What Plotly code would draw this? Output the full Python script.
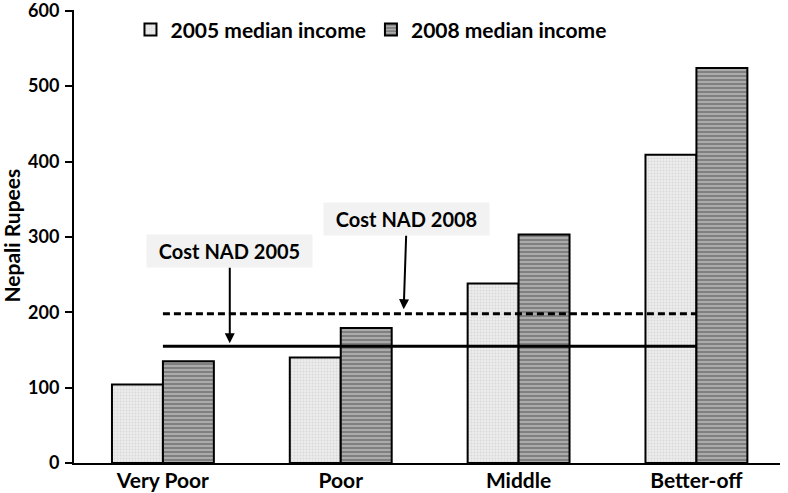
import plotly.graph_objects as go

categories = ["Very Poor", "Poor", "Middle", "Better-off"]
income_2005 = [104, 140, 238, 409]
income_2008 = [135, 179, 303, 524]
cost_nad_2005 = 155
cost_nad_2008 = 198
y_ticks = [0, 100, 200, 300, 400, 500, 600]

FONT = "Lato"

fig = go.Figure()
fig.add_trace(go.Bar(
    x=categories, y=income_2005, name="2005 median income",
    marker=dict(color="#e4e4e4", line=dict(color="black", width=2),
                pattern=dict(shape=".", fgcolor="#c4c4c4", bgcolor="#ececec", size=3, solidity=0.3)),
))
fig.add_trace(go.Bar(
    x=categories, y=income_2008, name="2008 median income",
    marker=dict(color="#888888", line=dict(color="black", width=2),
                pattern=dict(shape="-", fgcolor="#555555", bgcolor="#ababab", size=4, solidity=0.5)),
))
fig.add_trace(go.Scatter(
    x=[categories[0], categories[-1]], y=[cost_nad_2008, cost_nad_2008], mode="lines",
    line=dict(color="black", width=3, dash="7px,4px"), showlegend=False, hoverinfo="skip",
))
fig.add_trace(go.Scatter(
    x=[categories[0], categories[-1]], y=[cost_nad_2005, cost_nad_2005], mode="lines",
    line=dict(color="black", width=3), showlegend=False, hoverinfo="skip",
))

fig.add_annotation(
    x=0.376, y=cost_nad_2005 + 4, xref="x", yref="y",
    text="<b>Cost NAD 2005</b>", showarrow=True, ax=0, ay=-92,
    arrowhead=2, arrowsize=1, arrowwidth=2, arrowcolor="black",
    bgcolor="#f2f2f2", borderpad=4, width=157, height=24,
    font=dict(family=FONT, size=20, color="black"),
)
fig.add_annotation(
    x=1.354, y=cost_nad_2008 + 6, xref="x", yref="y",
    text="<b>Cost NAD 2008</b>", showarrow=True, ax=3, ay=-90,
    arrowhead=2, arrowsize=1, arrowwidth=2, arrowcolor="black",
    bgcolor="#f2f2f2", borderpad=4, width=157, height=24,
    font=dict(family=FONT, size=20, color="black"),
)
# y-axis title
fig.add_annotation(
    x=-0.0885, y=0.501, xref="paper", yref="paper", xanchor="center", yanchor="middle",
    text="<b>Nepali Rupees</b>", textangle=-90, showarrow=False,
    font=dict(family=FONT, size=21, color="black"),
)

fig.update_layout(
    width=788, height=493,
    margin=dict(l=74, r=8, t=10, b=30, autoexpand=False),
    paper_bgcolor="white", plot_bgcolor="white",
    barmode="group", bargap=0.427, bargroupgap=0,
    font=dict(family=FONT, size=20, color="black"),
    legend=dict(orientation="h", x=0.08, y=0.956, xanchor="left", yanchor="middle",
                font=dict(family=FONT, size=21, color="black", weight="bold"),
                itemwidth=30, traceorder="normal", bgcolor="rgba(0,0,0,0)"),
    showlegend=True,
)
fig.update_xaxes(
    type="category", range=[-0.5, 3.47], showline=True, linecolor="black", linewidth=2,
    ticks="", showgrid=False, zeroline=False, automargin=False, ticklabeloverflow="allow",
    ticklabelstandoff=-2,
    tickfont=dict(family=FONT, size=21, color="black", weight="bold"),
)
fig.update_yaxes(
    range=[0, 601], tickvals=y_ticks, showline=True, linecolor="black", linewidth=2,
    ticks="outside", ticklen=7, tickwidth=2, tickcolor="black", showgrid=False, zeroline=False,
    automargin=False, ticklabeloverflow="allow", ticklabelstandoff=2,
    tickfont=dict(family=FONT, size=18, color="black", weight="bold"),
)

fig.write_html("out.html", config={"displayModeBar": False},
               post_script="document.body.style.margin='0';")
